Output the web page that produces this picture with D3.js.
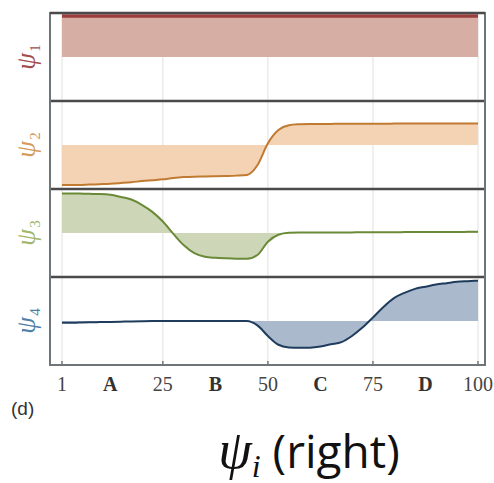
<!DOCTYPE html>
<html>
<head>
<meta charset="utf-8">
<script src="https://cdn.jsdelivr.net/npm/d3@7"></script>
<style>
  html, body { margin: 0; padding: 0; background: #fff; }
  svg { display: block; }
</style>
</head>
<body>
<svg id="chart" width="494" height="483"></svg>
<script>
// Sample positions along the index axis (1..100, step 2.5)
const positions = [1, 2.5, 5, 7.5, 10, 12.5, 15, 17.5, 20, 22.5, 25, 27.5, 30, 32.5, 35, 37.5, 40,
  42.5, 45, 47.5, 50, 52.5, 55, 57.5, 60, 62.5, 65, 67.5, 70, 72.5, 75, 77.5, 80, 82.5, 85, 87.5,
  90, 92.5, 95, 97.5, 100];

// Normalised component values (0 = panel bottom, 1 = panel top)
const psi1 = [0.966, 0.966, 0.966, 0.966, 0.966, 0.966, 0.966, 0.966, 0.966, 0.966, 0.966, 0.966,
  0.966, 0.966, 0.966, 0.966, 0.966, 0.966, 0.966, 0.966, 0.966, 0.966, 0.966, 0.966, 0.966, 0.966,
  0.966, 0.966, 0.966, 0.966, 0.966, 0.966, 0.966, 0.966, 0.966, 0.966, 0.966, 0.966, 0.966, 0.966, 0.966];
const psi2 = [0.045, 0.045, 0.045, 0.05, 0.055, 0.06, 0.068, 0.077, 0.09, 0.10, 0.11, 0.125, 0.135,
  0.14, 0.142, 0.145, 0.148, 0.152, 0.16, 0.27, 0.52, 0.67, 0.725, 0.736, 0.74, 0.74, 0.74, 0.741,
  0.741, 0.742, 0.742, 0.742, 0.743, 0.743, 0.743, 0.744, 0.744, 0.744, 0.745, 0.745, 0.745];
const psi3 = [0.95, 0.95, 0.948, 0.945, 0.943, 0.935, 0.91, 0.88, 0.82, 0.74, 0.63, 0.49, 0.36,
  0.27, 0.23, 0.218, 0.212, 0.208, 0.207, 0.25, 0.40, 0.48, 0.502, 0.505, 0.505, 0.506, 0.506,
  0.507, 0.507, 0.508, 0.508, 0.509, 0.509, 0.51, 0.51, 0.511, 0.511, 0.512, 0.512, 0.513, 0.513];
const psi4 = [0.48, 0.48, 0.482, 0.485, 0.488, 0.49, 0.492, 0.495, 0.497, 0.499, 0.50, 0.50, 0.50,
  0.50, 0.50, 0.50, 0.50, 0.50, 0.50, 0.45, 0.33, 0.23, 0.20, 0.195, 0.197, 0.21, 0.235, 0.26,
  0.33, 0.425, 0.54, 0.66, 0.76, 0.82, 0.865, 0.89, 0.915, 0.93, 0.945, 0.952, 0.958];

const seriesValues = [psi1, psi2, psi3, psi4];
const seriesLabels = ["1", "2", "3", "4"];
const referenceLevel = 0.5;

// Axis labels
const tickValues = [1, 25, 50, 75, 100];
const tickLabels = ["1", "25", "50", "75", "100"];
const segmentCenters = [12.5, 37.5, 62.5, 87.5];
const segmentLabels = ["A", "B", "C", "D"];

const lineColors  = ["#9b3f3e", "#c07a32", "#6b8a38", "#1f3c5c"];
const fillColors  = ["#d6aea4", "#f4d3b5", "#cdd6b6", "#abb9cd"];
const labelColors = ["#a24c4c", "#d59a58", "#a2b66a", "#4e80a8"];

const svg = d3.select("#chart");
const frameL = 50, frameR = 485, frameT = 13, panelH = 88;
const nPanels = seriesValues.length;
const frameB = frameT + panelH * nPanels;

const x = d3.scaleLinear().domain([1, 100]).range([62, 478]);

// vertical gridlines spanning all panels
svg.append("g").selectAll("line").data(tickValues).join("line")
  .attr("x1", d => x(d)).attr("x2", d => x(d))
  .attr("y1", frameT).attr("y2", frameB)
  .attr("stroke", "#e0e0e0").attr("stroke-width", 1);

seriesValues.forEach((vals, i) => {
  const top = frameT + i * panelH;
  const y = d3.scaleLinear().domain([0, 1]).range([top + panelH, top]);
  const pts = positions.map((p, k) => [p, vals[k]]);
  const g = svg.append("g");

  const area = d3.area()
    .x(d => x(d[0]))
    .y0(y(referenceLevel))
    .y1(d => y(d[1]))
    .curve(d3.curveMonotoneX);
  const line = d3.line()
    .x(d => x(d[0]))
    .y(d => y(d[1]))
    .curve(d3.curveMonotoneX);

  g.append("path").datum(pts).attr("d", area).attr("fill", fillColors[i]);
  g.append("path").datum(pts).attr("d", line)
    .attr("fill", "none")
    .attr("stroke", lineColors[i])
    .attr("stroke-width", i === 0 ? 3.5 : 2);

  // rotated component label
  const lab = svg.append("text")
    .attr("transform", `translate(35,${top + panelH / 2}) rotate(-90)`)
    .attr("text-anchor", "middle")
    .attr("fill", labelColors[i])
    .attr("font-family", "'Liberation Serif', 'DejaVu Serif', serif")
    .attr("font-size", 27);
  lab.append("tspan").attr("font-style", "italic").text("ψ");
  lab.append("tspan").attr("font-size", 15).attr("dy", 5).attr("dx", 1).text(seriesLabels[i]);
});

// panel dividers
svg.append("g").selectAll("line").data(d3.range(1, nPanels)).join("line")
  .attr("x1", frameL).attr("x2", frameR)
  .attr("y1", d => frameT + d * panelH).attr("y2", d => frameT + d * panelH)
  .attr("stroke", "#4a4a4a").attr("stroke-width", 2.5);

// outer frame
svg.append("rect")
  .attr("x", frameL).attr("y", frameT)
  .attr("width", frameR - frameL).attr("height", frameB - frameT)
  .attr("fill", "none").attr("stroke", "#6f7478").attr("stroke-width", 2);
svg.append("line")
  .attr("x1", frameL).attr("x2", frameR).attr("y1", frameT).attr("y2", frameT)
  .attr("stroke", "#4a4a4a").attr("stroke-width", 2.5);

// bottom axis ticks
svg.append("g").selectAll("line").data(tickValues).join("line")
  .attr("x1", d => x(d)).attr("x2", d => x(d))
  .attr("y1", frameB).attr("y2", frameB - 4)
  .attr("stroke", "#777").attr("stroke-width", 1.5);

svg.append("g").selectAll("text").data(tickValues).join("text")
  .attr("x", d => x(d)).attr("y", 391)
  .attr("text-anchor", "middle")
  .attr("font-family", "'Liberation Serif', 'DejaVu Serif', serif")
  .attr("font-size", 20).attr("fill", "#444")
  .text((d, k) => tickLabels[k]);

svg.append("g").selectAll("text").data(segmentCenters).join("text")
  .attr("x", d => x(d)).attr("y", 391)
  .attr("text-anchor", "middle")
  .attr("font-family", "'Liberation Serif', 'DejaVu Serif', serif")
  .attr("font-weight", "bold")
  .attr("font-size", 20).attr("fill", "#333")
  .text((d, k) => segmentLabels[k]);

// panel tag
svg.append("text")
  .attr("x", 11).attr("y", 415)
  .attr("font-family", "'Liberation Sans', Arial, sans-serif")
  .attr("font-size", 19).attr("fill", "#333")
  .text("(d)");

// axis title
const title = svg.append("text")
  .attr("x", 309).attr("y", 468)
  .attr("text-anchor", "middle")
  .attr("font-family", "'Open Sans', 'DejaVu Sans', sans-serif")
  .attr("font-size", 46).attr("fill", "#111");
title.append("tspan").attr("font-family", "'Liberation Serif', serif").attr("font-style", "italic")
  .attr("font-size", 54).text("ψ");
title.append("tspan").attr("font-family", "'Liberation Serif', serif").attr("font-style", "italic")
  .attr("font-size", 32).attr("dy", 9).text("i");
title.append("tspan").attr("dy", -9).text(" (right)");
</script>
</body>
</html>
